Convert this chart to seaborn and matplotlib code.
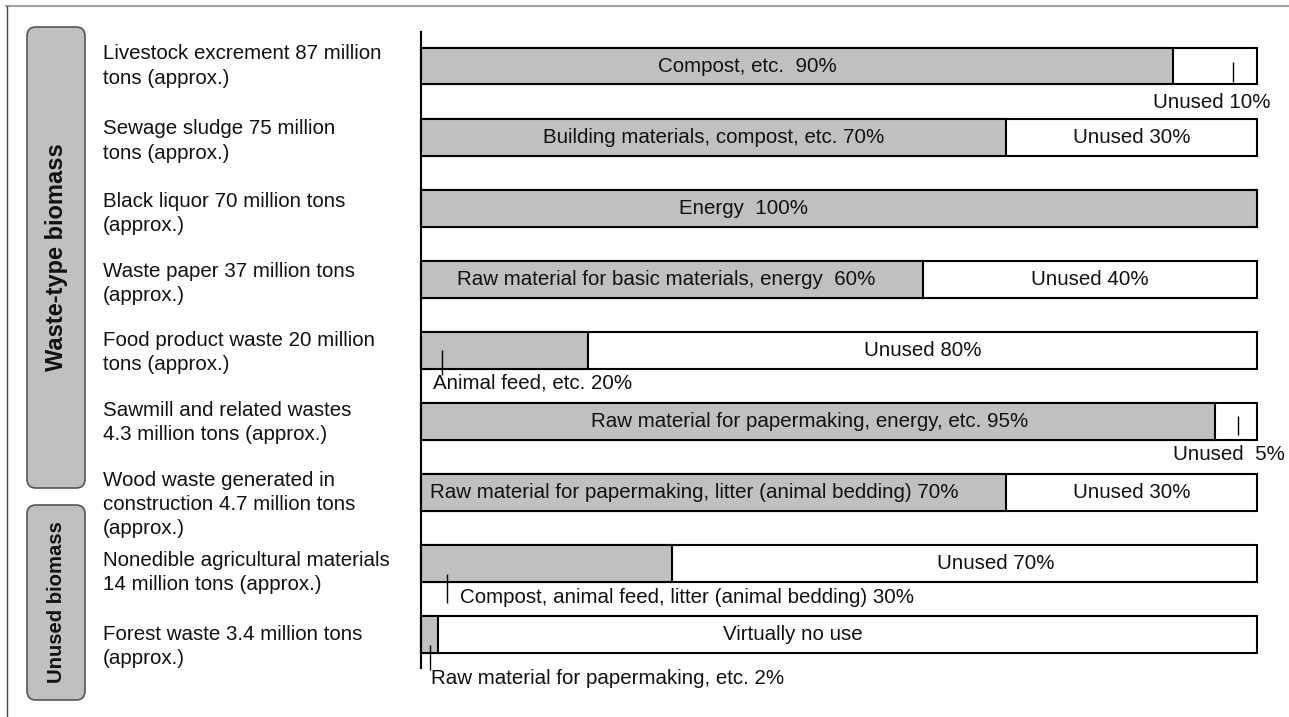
import matplotlib
matplotlib.use("Agg")
import matplotlib.pyplot as plt
import seaborn as sns
import pandas as pd
from matplotlib.patches import FancyBboxPatch
from matplotlib.lines import Line2D
from matplotlib.transforms import Affine2D, blended_transform_factory

# ---------------------------------------------------------------- data
sources = [
    "Livestock excrement 87 million\ntons (approx.)",
    "Sewage sludge 75 million\ntons (approx.)",
    "Black liquor 70 million tons\n(approx.)",
    "Waste paper 37 million tons\n(approx.)",
    "Food product waste 20 million\ntons (approx.)",
    "Sawmill and related wastes\n4.3 million tons (approx.)",
    "Wood waste generated in\nconstruction 4.7 million tons\n(approx.)",
    "Nonedible agricultural materials\n14 million tons (approx.)",
    "Forest waste 3.4 million tons\n(approx.)",
]
used_pct = [90, 70, 100, 60, 20, 95, 70, 30, 2]
used_uses = [
    "Compost, etc. ",
    "Building materials, compost, etc.",
    "Energy ",
    "Raw material for basic materials, energy ",
    "Animal feed, etc.",
    "Raw material for papermaking, energy, etc.",
    "Raw material for papermaking, litter (animal bedding)",
    "Compost, animal feed, litter (animal bedding)",
    "Raw material for papermaking, etc.",
]
unused_names = ["Unused", "Unused", None, "Unused", "Unused", "Unused ",
                "Unused", "Unused", "Virtually no use"]
group_names = ["Waste-type biomass", "Unused biomass"]

unused_pct = [100 - u for u in used_pct]

# ---------------------------------------------------------------- layout
W, H, DPI = 1289, 717, 100
GRAY = "#c0c0c0"
FS = 14.8
ROW_PX = 71.1

# label anchors: (x in %, y offset in rows, ha); None -> centred in segment
used_anchor = [(39.0, 0, "center"), None, (38.6, 0, "center"), (29.3, 0, "center"),
               (1.4, 0.46, "left"), (46.5, 0, "center"), (1.1, 0, "left"),
               (4.7, 0.47, "left"), (1.2, 0.61, "left")]
unused_anchor = [(101.6, 0.51, "right"), None, None, None, None,
                 (103.3, 0.47, "right"), None, (68.8, 0, "center"),
                 (44.5, 0, "center")]
# leader ticks for labels written outside their bar: (x %, y0, y1) in rows
used_leaders = {4: (2.5, 0.0, 0.35), 7: (3.1, 0.14, 0.55), 8: (1.1, 0.14, 0.49)}
unused_leaders = {0: (97.1, -0.06, 0.225), 5: (97.7, -0.08, 0.19)}
# vertical nudge (in px) of each source caption relative to its bar
caption_shift_px = [0, 4, 5, 4, 2, 1, 12, 9, 12]

sns.set_theme(style="white")
plt.rcParams["font.family"] = ["Liberation Sans", "DejaVu Sans"]
plt.rcParams["text.color"] = "#111111"

fig = plt.figure(figsize=(W / DPI, H / DPI), dpi=DPI)
fig.patch.set_facecolor("white")

# pixel coordinates measured from the top-left corner
px = Affine2D().scale(1 / DPI, -1 / DPI).translate(0, H / DPI) + fig.dpi_scale_trans

ax_left, ax_right, ax_top, ax_bottom = 421, 1257, 32, 668
ax = fig.add_axes([ax_left / W, 1 - ax_bottom / H,
                   (ax_right - ax_left) / W, (ax_bottom - ax_top) / H])

df = pd.DataFrame({"source": sources, "used": used_pct,
                   "total": [u + n for u, n in zip(used_pct, unused_pct)]})

sns.barplot(data=df, y="source", x="total", orient="h", color="white",
            saturation=1, edgecolor="black", linewidth=1.5, width=0.52, ax=ax)
sns.barplot(data=df, y="source", x="used", orient="h", color=GRAY,
            saturation=1, edgecolor="black", linewidth=1.5, width=0.52, ax=ax)
for p in ax.patches:
    p.set_clip_on(False)

top_lim = -(66 - ax_top) / ROW_PX
bot_lim = top_lim + (ax_bottom - ax_top) / ROW_PX
ax.set_xlim(0, 100)
ax.set_ylim(bot_lim, top_lim)
ax.set_xlabel("")
ax.set_ylabel("")
ax.set_xticks([])
ax.set_yticks([])
for side in ["top", "right", "bottom"]:
    ax.spines[side].set_visible(False)
ax.spines["left"].set_color("black")
ax.spines["left"].set_linewidth(1.5)
ax.set_facecolor("none")

# segment labels
for i in range(len(sources)):
    u, n = used_pct[i], unused_pct[i]
    txt = f"{used_uses[i]} {u}%"
    a = used_anchor[i]
    if a is None:
        ax.text(u / 2, i, txt, ha="center", va="center", fontsize=FS)
    else:
        ax.text(a[0], i + a[1], txt, ha=a[2], va="center", fontsize=FS,
                clip_on=False)
    if unused_names[i] is not None:
        if unused_names[i].startswith("Virtually"):
            txt = unused_names[i]
        else:
            txt = f"{unused_names[i]} {n}%"
        a = unused_anchor[i]
        if a is None:
            ax.text(u + n / 2, i, txt, ha="center", va="center", fontsize=FS)
        else:
            ax.text(a[0], i + a[1], txt, ha=a[2], va="center", fontsize=FS,
                    clip_on=False)

for leaders in (used_leaders, unused_leaders):
    for i, (x, y0, y1) in leaders.items():
        ax.plot([x, x], [i + y0, i + y1], color="black", lw=1.0,
                solid_capstyle="butt", clip_on=False)

# source captions on the left
cap_tr = blended_transform_factory(fig.transFigure, ax.transData)
for i, s in enumerate(sources):
    ax.text(103 / W, i + caption_shift_px[i] / ROW_PX, s, transform=cap_tr,
            ha="left", va="center", fontsize=FS, linespacing=1.35)

# group boxes
for (x0, y0, x1, y1), name, fs in zip(
        [(27, 27, 85, 488), (27, 505, 85, 700)], group_names, [17, 14.6]):
    box = FancyBboxPatch((x0, y0), x1 - x0, y1 - y0,
                         boxstyle="round,pad=0,rounding_size=9",
                         transform=px, facecolor=GRAY, edgecolor="#555555",
                         linewidth=1.2)
    fig.add_artist(box)
    fig.text((x0 + x1) / 2 / W, 1 - (y0 + y1) / 2 / H, name, rotation=90,
             ha="center", va="center", fontsize=fs, fontweight="bold")

# outer frame
fig.add_artist(Line2D([6, W], [6, 6], transform=px, color="#a0a0a0", lw=1.5))
fig.add_artist(Line2D([7, 7], [6, H], transform=px, color="#444444", lw=1.0))

fig.savefig("out.png", dpi=DPI, facecolor="white")
